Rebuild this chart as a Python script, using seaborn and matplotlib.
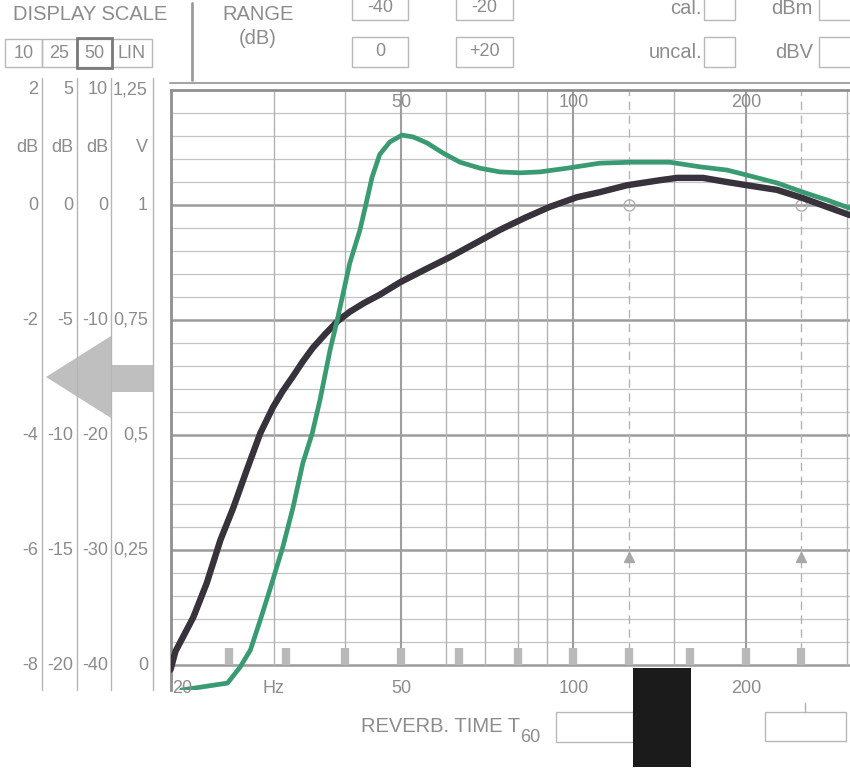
import numpy as np
import pandas as pd
import seaborn as sns
import matplotlib
matplotlib.use('Agg')
from matplotlib import pyplot as plt
from matplotlib import patches, transforms
from matplotlib.lines import Line2D

# --- data (frequency in Hz, level in V) ---
dark_freq = [19.8, 20.2, 21.7, 22.9, 24.2, 25.5, 26.9, 28.4, 29.9, 31.1, 32.4, 33.7, 35.1,
             36.9, 38.7, 40.7, 43.1, 45.9, 49.8, 54.7, 60.9, 67.2, 74.4, 82.2, 90.9, 101.4,
             111.2, 124.0, 141.6, 151.6, 168.3, 185.3, 200.8, 226.5, 251.5, 276.9, 303.8]
dark_volts = [-0.01, 0.03, 0.104, 0.178, 0.272, 0.343, 0.424, 0.504, 0.561, 0.596, 0.628, 0.66,
              0.69, 0.72, 0.747, 0.768, 0.787, 0.805, 0.832, 0.858, 0.887, 0.916, 0.946, 0.972,
              0.996, 1.017, 1.028, 1.043, 1.054, 1.059, 1.059, 1.050, 1.043, 1.033, 1.015,
              0.996, 0.978]

green_freq = [20.7, 24.9, 26.2, 27.3, 28.4, 29.5, 31.1, 32.4, 33.7, 35.0, 36.1, 37.6, 38.7,
              40.7, 42.4, 43.6, 44.5, 45.9, 47.8, 50.2, 52.5, 55.5, 59.2, 63.4, 68.7, 74.4,
              80.6, 87.4, 97.4, 111.2, 125.5, 147.4, 166.3, 185.3, 200.8, 226.5, 251.5,
              276.9, 303.8]
green_volts = [-0.054, -0.039, -0.004, 0.033, 0.098, 0.163, 0.257, 0.343, 0.439, 0.504, 0.576,
               0.685, 0.75, 0.874, 0.946, 1.011, 1.06, 1.11, 1.137, 1.152, 1.148, 1.135,
               1.113, 1.093, 1.080, 1.072, 1.070, 1.072, 1.080, 1.091, 1.093, 1.093, 1.083,
               1.076, 1.065, 1.048, 1.028, 1.011, 0.993]

grid_solid = [30, 40, 60, 70, 80, 90, 150, 300]
grid_heavy = [50, 100, 200]
grid_dashed = [125, 250]
third_octaves = [25, 31.5, 40, 50, 63, 80, 100, 125, 160, 200, 250]
top_labels = [50, 100, 200]
bottom_labels = ['20', 'Hz', '50', '100', '200']
bottom_label_freqs = [19.9, 30, 50, 100, 200]

volt_rows = [1.25, 1.125, 1.0, 0.75, 0.5, 0.25, 0.0]
scale_columns = [
    ['2', 'dB', '0', '-2', '-4', '-6', '-8'],
    ['5', 'dB', '0', '-5', '-10', '-15', '-20'],
    ['10', 'dB', '0', '-10', '-20', '-30', '-40'],
    ['1,25', 'V', '1', '0,75', '0,5', '0,25', '0'],
]

W, H = 850, 783
GRAY = '#8c8c8c'


def fx(x):
    return x / W


def fy(y):
    return 1 - y / H


sns.set_style('white')
plt.rcParams['font.family'] = ['Liberation Sans', 'DejaVu Sans']

fig = plt.figure(figsize=(W / 100, H / 100), dpi=100)
ax = fig.add_axes([fx(171), fy(690), (W - 171) / W, 600 / H])
ax.set_xscale('log')
ax.set_xlim(19.84, 303.8)
ax.set_ylim(-0.054, 1.25)

# grid of the recorder paper
minor_levels = [v for v in np.round(np.arange(0, 1.251, 0.05), 2) if v % 0.25 > 1e-6 and 0.25 - v % 0.25 > 1e-6]
ax.hlines(minor_levels, 19.84, 303.8, color='#c4c4c4', lw=0.9, zorder=1)
ax.hlines([0, 0.25, 0.5, 0.75, 1.0], 19.84, 303.8, color='#9c9c9c', lw=1.8, zorder=1)
ax.vlines(grid_solid, 0, 1.25, color='#b3b3b3', lw=1.0, zorder=1)
ax.vlines(grid_heavy, 0, 1.25, color='#9e9e9e', lw=1.5, zorder=1)
ax.vlines(grid_dashed, 0, 1.25, color='#b3b3b3', lw=1.0, ls=(0, (6, 4)), zorder=1)
ax.vlines(third_octaves, 0, 0.037, color='#b9b9b9', lw=6, zorder=2)
ax.plot(grid_dashed, [1.0, 1.0], 'o', ms=8, mfc='none', mec='#b0b0b0', mew=1.0, zorder=2)
ax.plot(grid_dashed, [0.236, 0.236], '^', ms=7, color='#a8a8a8', zorder=2)

for s in ['right', 'bottom']:
    ax.spines[s].set_visible(False)
for s in ['left', 'top']:
    ax.spines[s].set_color('#8f8f8f')
    ax.spines[s].set_linewidth(2)
ax.tick_params(which='both', length=0, labelbottom=False, labelleft=False)

# traces
dark = pd.DataFrame({'freq': dark_freq, 'volts': dark_volts})
green = pd.DataFrame({'freq': green_freq, 'volts': green_volts})
sns.lineplot(data=dark, x='freq', y='volts', color='#37323c', lw=4.6, estimator=None,
             sort=False, ax=ax, zorder=4, solid_capstyle='round', solid_joinstyle='round')
sns.lineplot(data=green, x='freq', y='volts', color='#3a9b72', lw=3.4, estimator=None,
             sort=False, ax=ax, zorder=5, solid_capstyle='round', solid_joinstyle='round')
ax.set_xlabel('')
ax.set_ylabel('')

for f in top_labels:
    ax.text(f, 1.222, str(f), ha='center', va='center', fontsize=13, color=GRAY, zorder=6)
for lab, f in zip(bottom_labels, bottom_label_freqs):
    ax.text(f, -0.05, lab, ha='left' if lab == '20' else 'center', va='center',
            fontsize=13, color=GRAY, zorder=6, clip_on=False)

# left scale panel
blend = transforms.blended_transform_factory(fig.transFigure, ax.transData)
for col, right in zip(scale_columns, [38, 73, 108, 148]):
    for lab, v in zip(col, volt_rows):
        ax.text(fx(right), v, lab, transform=blend, ha='right', va='center',
                fontsize=13, color=GRAY, clip_on=False)
for x in [42, 77, 111, 153]:
    fig.add_artist(Line2D([fx(x), fx(x)], [fy(78), fy(690)], color='#b5b5b5', lw=1.0))

arrow = [(46, 377), (111, 336), (111, 365), (153, 365), (153, 392), (111, 392), (111, 418)]
fig.add_artist(patches.Polygon([(fx(x), fy(y)) for x, y in arrow], closed=True,
                               transform=fig.transFigure, color='#bfbfbf', lw=0))

# header
def box(x0, y0, x1, y1, ec='#b8b8b8', lw=1.0):
    fig.add_artist(patches.Rectangle((fx(x0), fy(y1)), fx(x1) - fx(x0), fy(y0) - fy(y1),
                                     transform=fig.transFigure, fill=False, ec=ec, lw=lw))


fig.text(fx(90), fy(15), 'DISPLAY SCALE', ha='center', va='center', fontsize=14.5, color=GRAY)
for lab, (x0, x1) in zip(['10', '25', '50', 'LIN'], [(5, 42), (42, 77), (77, 112), (112, 152)]):
    box(x0, 39, x1, 67)
    fig.text(fx((x0 + x1) / 2), fy(53), lab, ha='center', va='center', fontsize=13, color=GRAY)
box(77, 38, 112, 68, ec='#7a7a7a', lw=2.0)
fig.add_artist(Line2D([fx(192), fx(192)], [fy(3), fy(80)], color='#9a9a9a', lw=2))
fig.text(fx(258), fy(15), 'RANGE', ha='center', va='center', fontsize=14.5, color=GRAY)
fig.text(fx(258), fy(38), '(dB)', ha='center', va='center', fontsize=14.5, color=GRAY)
for lab, x0, x1, yc in [('-40', 352, 408, 8), ('0', 352, 408, 52), ('-20', 456, 513, 8), ('+20', 456, 513, 52)]:
    if yc < 20:
        box(x0, -10, x1, 20)
    else:
        box(x0, 37, x1, 67)
    fig.text(fx((x0 + x1) / 2), fy(yc), lab, ha='center', va='center', fontsize=13, color=GRAY)
for lab, xr, x0, x1, yc in [('cal.', 702, 704, 735, 8), ('uncal.', 702, 704, 735, 52),
                            ('dBm', 813, 819, 852, 8), ('dBV', 813, 819, 852, 52)]:
    if yc < 20:
        box(x0, -10, x1, 20)
    else:
        box(x0, 37, x1, 67)
    fig.text(fx(xr), fy(yc), lab, ha='right', va='center', fontsize=14.5, color=GRAY)
fig.add_artist(Line2D([fx(170), fx(850)], [fy(83), fy(83)], color='#a5a5a5', lw=1.5))

# footer
fig.text(fx(520), fy(727), 'REVERB. TIME T', ha='right', va='center', fontsize=14.5, color=GRAY)
fig.text(fx(520), fy(738), '60', ha='left', va='center', fontsize=13, color=GRAY)
box(556, 712, 633, 742)
box(765, 712, 846, 741)
fig.add_artist(Line2D([fx(805), fx(805)], [fy(703), fy(712)], color='#b0b0b0', lw=1))
fig.add_artist(patches.Rectangle((fx(633), fy(767)), fx(691) - fx(633), fy(668) - fy(767),
                                 transform=fig.transFigure, color='#1b1b1b', lw=0))

plt.savefig('out.png', dpi=100)
